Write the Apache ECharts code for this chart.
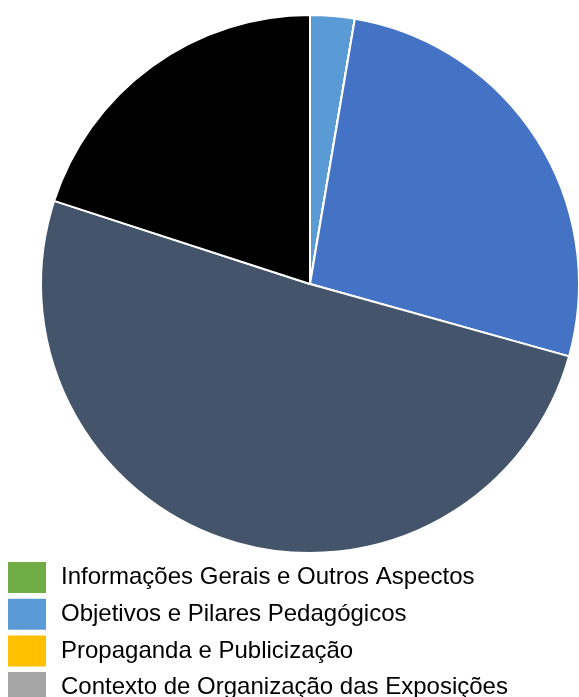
<!DOCTYPE html>
<html>
<head>
<meta charset="utf-8">
<script src="https://cdn.jsdelivr.net/npm/echarts@6/dist/echarts.min.js"></script>
<style>
  html, body { margin: 0; padding: 0; background: #fff; }
  #chart { width: 579px; height: 697px; }
</style>
</head>
<body>
<div id="chart"></div>
<script>
// Categories in series order (pie runs clockwise from 12 o'clock)
const categories = [
  'Informações Gerais e Outros Aspectos',
  'Objetivos e Pilares Pedagógicos',
  'Propaganda e Publicização',
  'Contexto de Organização das Exposições',
  'Categoria 5',
  'Categoria 6',
  'Categoria 7'
];
const values = [0, 2, 0, 0, 20, 38, 15];
const colors = ['#70AD47', '#5B9BD5', '#FFC000', '#A5A5A5', '#4472C4', '#44546A', '#000000'];
const legendItems = categories.slice(0, 4);

const chart = echarts.init(document.getElementById('chart'), null, { renderer: 'canvas' });

chart.setOption({
  animation: false,
  backgroundColor: '#ffffff',
  color: colors,
  legend: {
    data: legendItems,
    orient: 'vertical',
    left: 8,
    top: 562,
    height: 300,
    padding: 0,
    icon: 'rect',
    itemWidth: 38,
    itemHeight: 31,
    itemGap: 5.7,
    itemStyle: { borderWidth: 0 },
    selectedMode: false,
    textStyle: {
      fontFamily: 'Liberation Sans, Arial, sans-serif',
      fontSize: 24,
      color: '#000000',
      padding: [0, 0, 0, 10]
    }
  },
  series: [{
    type: 'pie',
    center: [310, 284],
    radius: [0, 269],
    startAngle: 90,
    clockwise: true,
    silent: true,
    label: { show: false },
    labelLine: { show: false },
    itemStyle: { borderColor: '#ffffff', borderWidth: 2 },
    data: categories.map((name, i) => ({ name, value: values[i] }))
  }]
});
</script>
</body>
</html>
